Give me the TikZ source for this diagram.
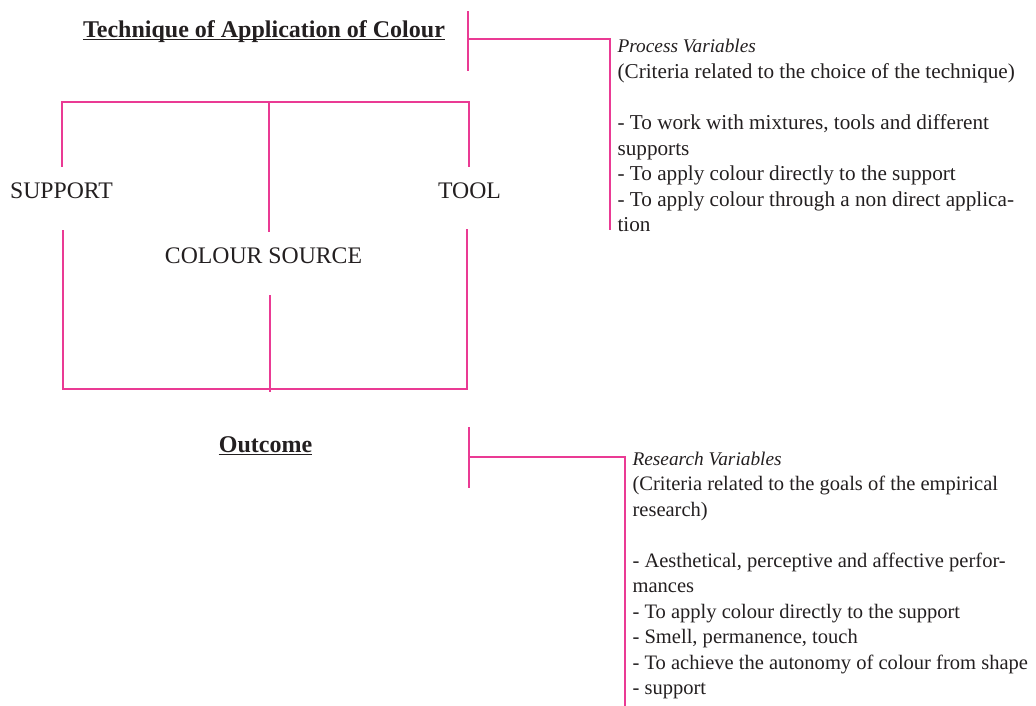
\documentclass[tikz,border=0pt]{standalone}
\usepackage{fontspec}
\setmainfont{Liberation Serif}
\definecolor{pinkline}{RGB}{234,58,148}
\definecolor{txt}{RGB}{35,31,32}
\tikzset{
  conn/.style={draw=pinkline, line width=1.5pt, line cap=rect},
  heading/.style={inner sep=0pt, anchor=base, text=txt, font=\fontsize{18pt}{21pt}\selectfont\bfseries},
  caplabel/.style={inner sep=0pt, anchor=base, text=txt, font=\fontsize{17.8pt}{21pt}\selectfont},
  bodytext/.style={inner sep=0pt, anchor=base west, text=txt},
  uline/.style={draw=txt, line width=0.8pt}
}
\newcommand{\bodyblock}[2]{\fontsize{#1}{19.15pt}\selectfont\begin{tabular}[t]{@{}l@{}}#2\end{tabular}}
\begin{document}
\begin{tikzpicture}[x=0.75pt,y=-0.75pt]
\useasboundingbox (0,0) rectangle (1036,706);

% headings
\node[heading] (title) at (264,37.3) {Technique of Application of Colour};
\draw[uline] ([yshift=-1.6pt]title.base west) -- ([yshift=-1.6pt]title.base east);
\node[heading] (outcome) at (265.5,452.7) {Outcome};
\draw[uline] ([yshift=-1.6pt]outcome.base west) -- ([yshift=-1.6pt]outcome.base east);

% labels
\node[caplabel] (support) at (61.5,198.3) {SUPPORT};
\node[caplabel] (tool) at (469.5,198.3) {TOOL};
\node[caplabel] (source) at (263.5,263) {COLOUR SOURCE};

% text blocks
\node[bodytext] (process) at (617.3,53) {\bodyblock{15.9pt}{%
  {\fontsize{14.5pt}{19.15pt}\selectfont\itshape Process Variables}\\
  (Criteria related to the choice of the technique)\\
  \\
  - To work with mixtures, tools and different\\
  supports\\
  - To apply colour directly to the support\\
  - To apply colour through a non direct applica-\\
  tion}};
\node[bodytext] (research) at (632.3,465) {\bodyblock{15.4pt}{%
  {\fontsize{14.5pt}{19.15pt}\selectfont\itshape Research Variables}\\
  (Criteria related to the goals of the empirical\\
  research)\\
  \\
  - Aesthetical, perceptive and affective perfor-\\
  mances\\
  - To apply colour directly to the support\\
  - Smell, permanence, touch\\
  - To achieve the autonomy of colour from shape\\
  - support}};

% coordinates of connector ends
\coordinate (tA) at (468,12);
\coordinate (tB) at (468,70);
\coordinate (tC) at (468,39);
\coordinate (tD) at (610,39);
\coordinate (tE) at (610,229);

\coordinate (fL) at (62,102);
\coordinate (fM) at (269,102);
\coordinate (fR) at (469,102);
\coordinate (sTop) at (62,166.5);
\coordinate (mTop) at (269,231.5);
\coordinate (rTop) at (469,166.5);

\coordinate (sBot) at (63,231.5);
\coordinate (rBot) at (467,230);
\coordinate (mBot) at (270,295.5);
\coordinate (bL) at (63,389);
\coordinate (bM) at (270,391);
\coordinate (bR) at (467,389);

\coordinate (oA) at (469,427.5);
\coordinate (oB) at (469,487);
\coordinate (oC) at (469,457);
\coordinate (oD) at (625,457);
\coordinate (oE) at (625,706);

% connectors
\draw[conn] (tA) -- (tB);
\draw[conn] (tC) -- (tD) -- (tE);

\draw[conn] (sTop) -- (fL) -- (fR) -- (rTop);
\draw[conn] (fM) -- (mTop);

\draw[conn] (sBot) -- (bL) -- (bR) -- (rBot);
\draw[conn] (mBot) -- (bM);

\draw[conn] (oA) -- (oB);
\draw[conn] (oC) -- (oD) -- (oE);
\end{tikzpicture}
\end{document}
